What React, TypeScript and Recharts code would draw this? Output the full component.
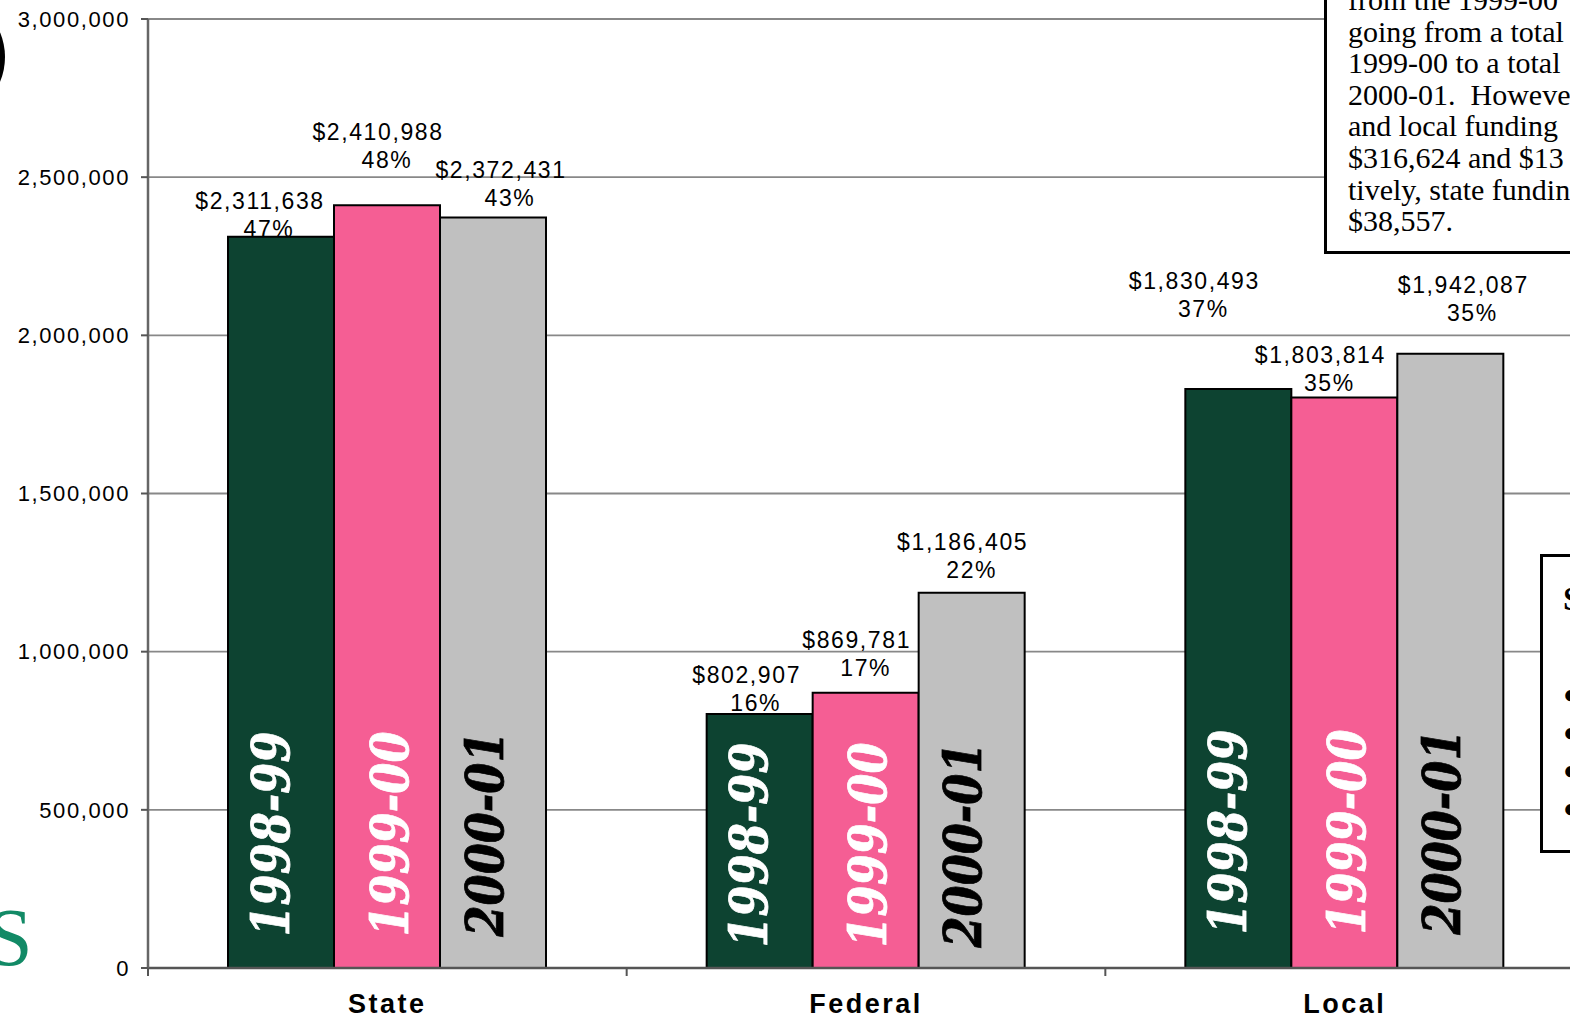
import React from 'react';
import { BarChart, Bar, XAxis, YAxis, CartesianGrid, LabelList } from 'recharts';

// funding sources and fiscal-year totals
const categories = ['State', 'Federal', 'Local'];
const fy9899 = [2311638, 802907, 1830493];
const fy9900 = [2410988, 869781, 1803814];
const fy0001 = [2372431, 1186405, 1942087];
const pct9899 = [47, 16, 37];
const pct9900 = [48, 17, 35];
const pct0001 = [43, 22, 35];
const yearNames = ['1998-99', '1999-00', '2000-01'];
const yTicks = [0, 500000, 1000000, 1500000, 2000000, 2500000, 3000000];

const noteLines = [
  'from the 1999-00',
  'going from a total',
  '1999-00 to a total',
  '2000-01.  Howeve',
  'and local funding',
  '$316,624 and $13',
  'tively, state fundin',
  '$38,557.',
];

// hand-placed label nudges (like the original spreadsheet), [dx, dy] from bar top-centre
const labelShift: Record<string, number[][]> = {
  fy9899: [[-21, -36], [-13, -39], [-44, -108]],
  fy9900: [[-9, -73], [-9, -53], [-24, -42]],
  fy0001: [[8, -48], [-9, -51], [13, -69]],
};
const yearShiftX: Record<string, number> = { fy9899: -11, fy9900: 2, fy0001: -9 };
const yearShiftY = [-134, -123, -136];

const COLORS = { fy9899: '#0d4331', fy9900: '#f55e94', fy0001: '#c0c0c0' };
const YEAR_TEXT = { fy9899: '#ffffff', fy9900: '#ffffff', fy0001: '#000000' };

const data = categories.map((c, i) => ({
  category: c,
  fy9899: fy9899[i],
  fy9900: fy9900[i],
  fy0001: fy0001[i],
}));

const SANS = '"Liberation Sans", Arial, sans-serif';

const makeValueLabel = (key: string, pcts: number[]) => (props: any) => {
  const { x, y, width, index, value } = props;
  if (typeof x !== 'number' || typeof y !== 'number') return null;
  const [dx, dy] = labelShift[key][index];
  const cx = x + width / 2 + dx;
  const cy = y + dy;
  const style = { fontFamily: SANS, fontSize: 23, letterSpacing: 1.6, fill: '#000' };
  return (
    <g>
      <text x={cx} y={cy + 8} textAnchor="middle" style={style}>
        {'$' + Number(value).toLocaleString('en-US')}
      </text>
      <text x={cx + 9} y={cy + 36} textAnchor="middle" style={style}>
        {pcts[index] + '%'}
      </text>
    </g>
  );
};

const makeYearLabel = (key: string, name: string) => (props: any) => {
  const { x, y, width, height, index } = props;
  if (typeof x !== 'number' || typeof y !== 'number') return null;
  const cx = x + width / 2 + yearShiftX[key];
  const cy = y + height + yearShiftY[index];
  return (
    <text
      x={cx}
      y={cy}
      transform={`rotate(-90, ${cx}, ${cy})`}
      textAnchor="middle"
      dominantBaseline="central"
      textLength={205}
      lengthAdjust="spacingAndGlyphs"
      style={{
        fontFamily: '"DejaVu Serif", serif',
        fontWeight: 'bold',
        fontStyle: 'italic',
        fontSize: 52,
        fill: (YEAR_TEXT as any)[key],
        stroke: (YEAR_TEXT as any)[key],
        strokeWidth: 0.8,
      }}
    >
      {name}
    </text>
  );
};

const CategoryTick = (props: any) => {
  const { x, y, payload } = props;
  const half = payload && typeof payload.offset === 'number' && payload.offset > 0 ? payload.offset : 239.3;
  return (
    <g>
      <line x1={x - half} y1={y} x2={x - half} y2={y + 8} stroke="#555" strokeWidth={2} />
      <text
        x={x}
        y={y + 45}
        textAnchor="middle"
        style={{ fontFamily: SANS, fontSize: 27, fontWeight: 'bold', letterSpacing: 2.5, fill: '#000' }}
      >
        {payload.value}
      </text>
    </g>
  );
};

const seriesKeys = ['fy9899', 'fy9900', 'fy0001'];
const seriesPcts = [pct9899, pct9900, pct0001];

export default function App() {
  return (
    <div style={{ position: 'absolute', left: 0, top: 0, width: 1570, height: 1018, overflow: 'hidden', background: '#fff' }}>
      <BarChart
        width={1600}
        height={1018}
        data={data}
        margin={{ top: 19, right: 16, bottom: 0, left: 0 }}
        barGap={0}
        barCategoryGap={80}
      >
        <CartesianGrid horizontal vertical={false} stroke="#888" strokeWidth={1.8} />
        <XAxis
          dataKey="category"
          height={50}
          axisLine={{ stroke: '#555', strokeWidth: 2.5 }}
          tickLine={false}
          tickSize={0}
          tickMargin={0}
          interval={0}
          tick={<CategoryTick />}
        />
        <YAxis
          width={148}
          domain={[0, 3000000]}
          ticks={yTicks}
          interval={0}
          axisLine={{ stroke: '#666', strokeWidth: 2.5 }}
          tickLine={{ stroke: '#555', strokeWidth: 2 }}
          tickSize={7}
          tickMargin={11}
          tickFormatter={(v: number) => v.toLocaleString('en-US')}
          tick={{ fontFamily: SANS, fontSize: 22, fill: '#000', letterSpacing: 1.6 } as any}
        />
        {seriesKeys.map((key, si) => (
          <Bar
            key={key}
            dataKey={key}
            fill={(COLORS as any)[key]}
            stroke="#000"
            strokeWidth={2}
            isAnimationActive={false}
          >
            <LabelList dataKey={key} content={makeYearLabel(key, yearNames[si])} />
            <LabelList dataKey={key} content={makeValueLabel(key, seriesPcts[si])} />
          </Bar>
        ))}
      </BarChart>

      {/* scraps of the surrounding page that the scan caught */}
      <svg width={1570} height={1018} style={{ position: 'absolute', left: 0, top: 0, pointerEvents: 'none' }}>
        <circle cx={-60} cy={57} r={65} fill="#000" />
        <text
          x={-13}
          y={965}
          style={{ fontFamily: '"Liberation Serif", serif', fontSize: 82, fill: '#128a66' }}
        >
          S
        </text>
      </svg>

      <div
        style={{
          position: 'absolute',
          left: 1324,
          top: -10,
          width: 300,
          height: 264,
          border: '3px solid #000',
          background: '#fff',
          boxSizing: 'border-box',
        }}
      >
        {noteLines.map((line, i) => (
          <div
            key={i}
            style={{
              position: 'absolute',
              left: 21,
              top: -9 + i * 31.6,
              whiteSpace: 'pre',
              fontFamily: '"Liberation Serif", serif',
              fontSize: 30,
              lineHeight: '32px',
              color: '#000',
            }}
          >
            {line}
          </div>
        ))}
      </div>

      <div
        style={{
          position: 'absolute',
          left: 1540,
          top: 554,
          width: 100,
          height: 299,
          border: '3px solid #000',
          background: '#fff',
          boxSizing: 'border-box',
          fontFamily: '"Liberation Serif", serif',
          fontWeight: 'bold',
          color: '#000',
        }}
      >
        <div style={{ position: 'absolute', left: 20, top: 22, fontSize: 34, lineHeight: '40px' }}>S</div>
        {[0, 1, 2, 3].map((i) => (
          <div key={i} style={{ position: 'absolute', left: 20, top: 125 + i * 38, fontSize: 26, lineHeight: '26px' }}>
            ●
          </div>
        ))}
      </div>
    </div>
  );
}
